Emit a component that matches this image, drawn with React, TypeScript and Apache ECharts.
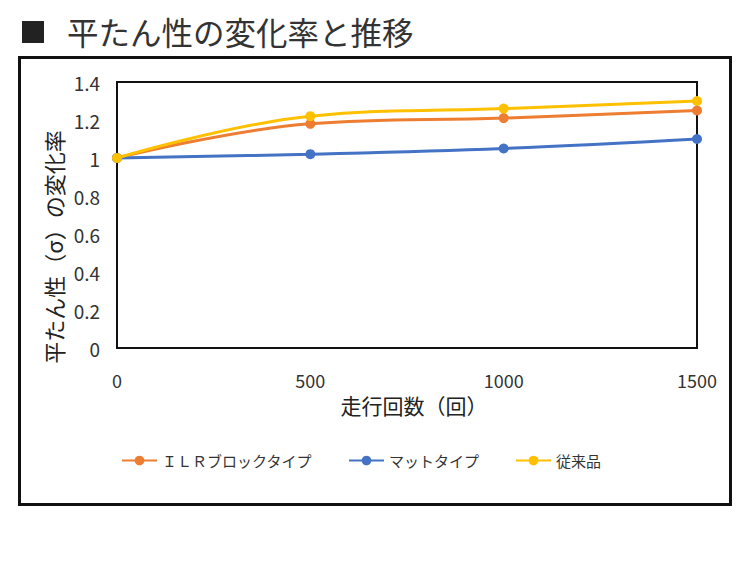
import React, { useEffect, useRef } from "react";
import * as echarts from "echarts";

const runs = [0, 500, 1000, 1500];
const ilrBlock = [1.0, 1.18, 1.21, 1.25];
const matType = [1.0, 1.02, 1.05, 1.1];
const conventional = [1.0, 1.22, 1.26, 1.3];
const seriesNames = ["ＩＬＲブロックタイプ", "マットタイプ", "従来品"];
const seriesColors = ["#ED7D31", "#4472C4", "#FFC000"];
const titleText = "平たん性の変化率と推移";
const yAxisName = "平たん性（σ）の変化率";
const xAxisName = "走行回数（回）";

const FONT = '"Noto Sans CJK JP", "Noto Sans", sans-serif';

export default function App() {
  const ref = useRef<HTMLDivElement>(null);
  useEffect(() => {
    document.body.style.margin = "0";
    const chart = echarts.init(ref.current!, null, { renderer: "svg" });
    const values = [ilrBlock, matType, conventional];
    chart.setOption({
      animation: false,
      backgroundColor: "#fff",
      textStyle: { fontFamily: FONT },
      graphic: [
        {
          type: "rect",
          shape: { x: 22, y: 21, width: 22, height: 22 },
          style: { fill: "#222" },
        },
        {
          type: "text",
          left: 67,
          top: 15,
          style: { text: titleText, fontSize: 31.5, fill: "#333", fontFamily: FONT },
        },
        {
          type: "rect",
          shape: { x: 19.5, y: 57.5, width: 711, height: 447 },
          style: { fill: "none", stroke: "#111", lineWidth: 3 },
          z: -1,
        },
        {
          type: "text",
          x: 53,
          y: 247,
          rotation: Math.PI / 2,
          style: {
            text: yAxisName,
            fontSize: 22,
            fill: "#222",
            fontFamily: FONT,
            align: "center",
            verticalAlign: "middle",
          },
        },
      ],
      grid: {
        left: 117,
        right: 55,
        top: 82,
        bottom: 216,
        show: true,
        borderColor: "#111",
        borderWidth: 2,
        containLabel: false,
      },
      legend: {
        left: 116,
        top: 448,
        itemWidth: 35,
        itemHeight: 12,
        itemGap: 36,
        textStyle: { fontSize: 15, color: "#333", fontFamily: FONT },
        data: seriesNames,
      },
      xAxis: {
        type: "value",
        min: 0,
        max: 1500,
        interval: 500,
        name: xAxisName,
        nameLocation: "middle",
        nameGap: 46,
        nameTextStyle: {
          fontSize: 21,
          color: "#222",
          fontFamily: FONT,
          padding: [0, 0, 0, 14],
        },
        axisLine: { show: false },
        axisTick: { show: false },
        splitLine: { show: false },
        axisLabel: {
          fontSize: 18,
          color: "#333",
          margin: 23,
          formatter: (v: number) => String(v),
        },
      },
      yAxis: {
        type: "value",
        min: 0,
        max: 1.4,
        interval: 0.2,
        axisLine: { show: false },
        axisTick: { show: false },
        splitLine: { show: false },
        axisLabel: {
          fontSize: 19,
          color: "#333",
          margin: 17,
          formatter: (v: number) => String(Math.round(v * 10) / 10),
        },
      },
      series: seriesNames.map((name, i) => ({
        name,
        type: "line",
        smooth: 0.4,
        symbol: "circle",
        symbolSize: 10,
        lineStyle: { width: 3, color: seriesColors[i] },
        itemStyle: { color: seriesColors[i] },
        data: runs.map((r, j) => [r, values[i][j]]),
      })),
    });
    return () => chart.dispose();
  }, []);
  return <div ref={ref} style={{ width: 752, height: 564 }} />;
}
